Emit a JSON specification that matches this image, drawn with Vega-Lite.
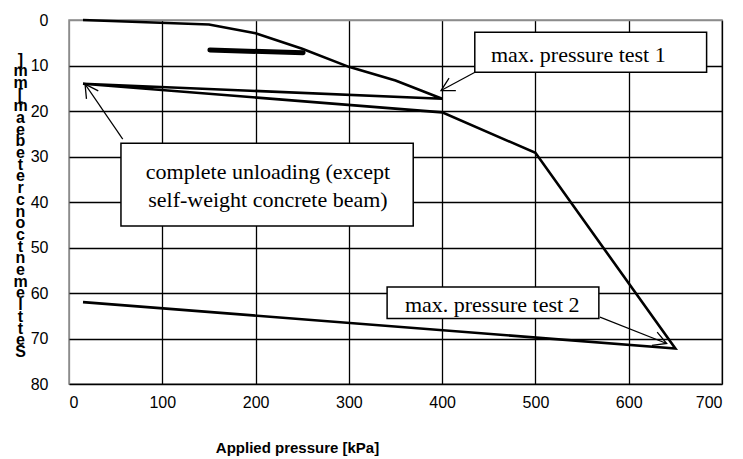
{
  "$schema": "https://vega.github.io/schema/vega-lite/v6.json",
  "width": 653,
  "height": 364,
  "autosize": {"type": "none"},
  "padding": {"left": 69, "top": 20, "right": 21, "bottom": 75},
  "background": "white",
  "config": {
    "view": {"stroke": "#8c8c8c", "strokeWidth": 1.5},
    "axis": {
      "grid": true,
      "gridColor": {"condition": {"test": "datum.value == 0", "value": "#8c8c8c"}, "value": "black"},
      "gridWidth": 1.3,
      "ticks": false,
      "domain": false,
      "labelFont": "Liberation Sans",
      "labelFontSize": 16,
      "labelColor": "black",
      "titleColor": "black",
      "titleFont": "Liberation Sans",
      "titleFontWeight": "bold"
    }
  },
  "datasets": {
    "main": [
      {"x": 15, "y": 0, "o": 1},
      {"x": 150, "y": 1, "o": 2},
      {"x": 200, "y": 2.9, "o": 3},
      {"x": 250, "y": 6.3, "o": 4},
      {"x": 300, "y": 10.3, "o": 5},
      {"x": 350, "y": 13.3, "o": 6},
      {"x": 400, "y": 17.3, "o": 7},
      {"x": 15, "y": 14, "o": 8},
      {"x": 400, "y": 20.3, "o": 9},
      {"x": 500, "y": 29.2, "o": 10},
      {"x": 650, "y": 72.2, "o": 11},
      {"x": 15, "y": 62, "o": 12}
    ],
    "thick": [
      {"x": 151, "y": 6.6, "o": 1},
      {"x": 251, "y": 7.2, "o": 2}
    ],
    "boxes": [
      {"x": 435, "x2": 683.5, "y": 2.7, "y2": 11.5},
      {"x": 55.7, "x2": 369, "y": 27.1, "y2": 45.3},
      {"x": 341, "x2": 568, "y": 58.7, "y2": 65.6}
    ],
    "labels": [
      {"x": 546, "y": 7.7, "t": "max. pressure test 1"},
      {"x": 213.3, "y": 33.3, "t": "complete unloading (except"},
      {"x": 213.3, "y": 39.6, "t": "self-weight concrete beam)"},
      {"x": 453.7, "y": 62.6, "t": "max. pressure test 2"}
    ],
    "arrows": [
      {"x": 435.2, "y": 11.5, "x2": 398.8, "y2": 15.5, "a": 151.6},
      {"x": 57.6, "y": 26.2, "x2": 17.2, "y2": 14.1, "a": 235.7},
      {"x": 569.2, "y": 65.3, "x2": 640.7, "y2": 71.1, "a": 21.3}
    ]
  },
  "layer": [
    {
      "data": {"name": "main"},
      "mark": {"type": "line", "color": "black", "strokeWidth": 2.6, "strokeJoin": "miter"},
      "encoding": {
        "x": {"field": "x", "type": "quantitative", "scale": {"domain": [0, 700], "nice": false},
          "axis": {"values": [0, 100, 200, 300, 400, 500, 600, 700], "title": "Applied pressure [kPa]", "labelPadding": 10, "titleFontSize": 15, "titleX": 228, "titleY": 63, "titleBaseline": "middle"}},
        "y": {"field": "y", "type": "quantitative", "scale": {"domain": [0, 80], "reverse": true, "nice": false},
          "axis": {"values": [0, 10, 20, 30, 40, 50, 60, 70, 80], "labelPadding": 21,
            "title": ["]", "m", "m", "[", "m", "a", "e", "b", "e", "t", "e", "r", "c", "n", "o", "c", "t", "n", "e", "m", "e", "l", "t", "t", "e", "S"],
            "titleAngle": 0, "titleX": -49, "titleY": 31, "titleAlign": "center", "titleBaseline": "top", "titleFontSize": 16, "titleLineHeight": 11.7}},
        "order": {"field": "o", "type": "quantitative"}
      }
    },
    {
      "data": {"name": "thick"},
      "mark": {"type": "line", "color": "black", "strokeWidth": 5, "strokeCap": "round"},
      "encoding": {
        "x": {"field": "x", "type": "quantitative"},
        "y": {"field": "y", "type": "quantitative"},
        "order": {"field": "o", "type": "quantitative"}
      }
    },
    {
      "data": {"name": "boxes"},
      "mark": {"type": "rect", "fill": "white", "stroke": "black", "strokeWidth": 1.5},
      "encoding": {
        "x": {"field": "x", "type": "quantitative"},
        "x2": {"field": "x2"},
        "y": {"field": "y", "type": "quantitative"},
        "y2": {"field": "y2"}
      }
    },
    {
      "data": {"name": "labels"},
      "mark": {"type": "text", "font": "Liberation Serif", "fontSize": 22, "align": "center", "baseline": "middle", "color": "black"},
      "encoding": {
        "x": {"field": "x", "type": "quantitative"},
        "y": {"field": "y", "type": "quantitative"},
        "text": {"field": "t"}
      }
    },
    {
      "data": {"name": "arrows"},
      "mark": {"type": "rule", "color": "black", "strokeWidth": 1.2},
      "encoding": {
        "x": {"field": "x", "type": "quantitative"},
        "y": {"field": "y", "type": "quantitative"},
        "x2": {"field": "x2"},
        "y2": {"field": "y2"}
      }
    },
    {
      "data": {"name": "arrows"},
      "mark": {"type": "point", "shape": "M-1,-0.55L0,0L-1,0.55", "filled": false, "stroke": "black", "strokeWidth": 1.3, "size": 676, "opacity": 1},
      "encoding": {
        "x": {"field": "x2", "type": "quantitative"},
        "y": {"field": "y2", "type": "quantitative"},
        "angle": {"field": "a", "type": "quantitative", "scale": null}
      }
    }
  ]
}
